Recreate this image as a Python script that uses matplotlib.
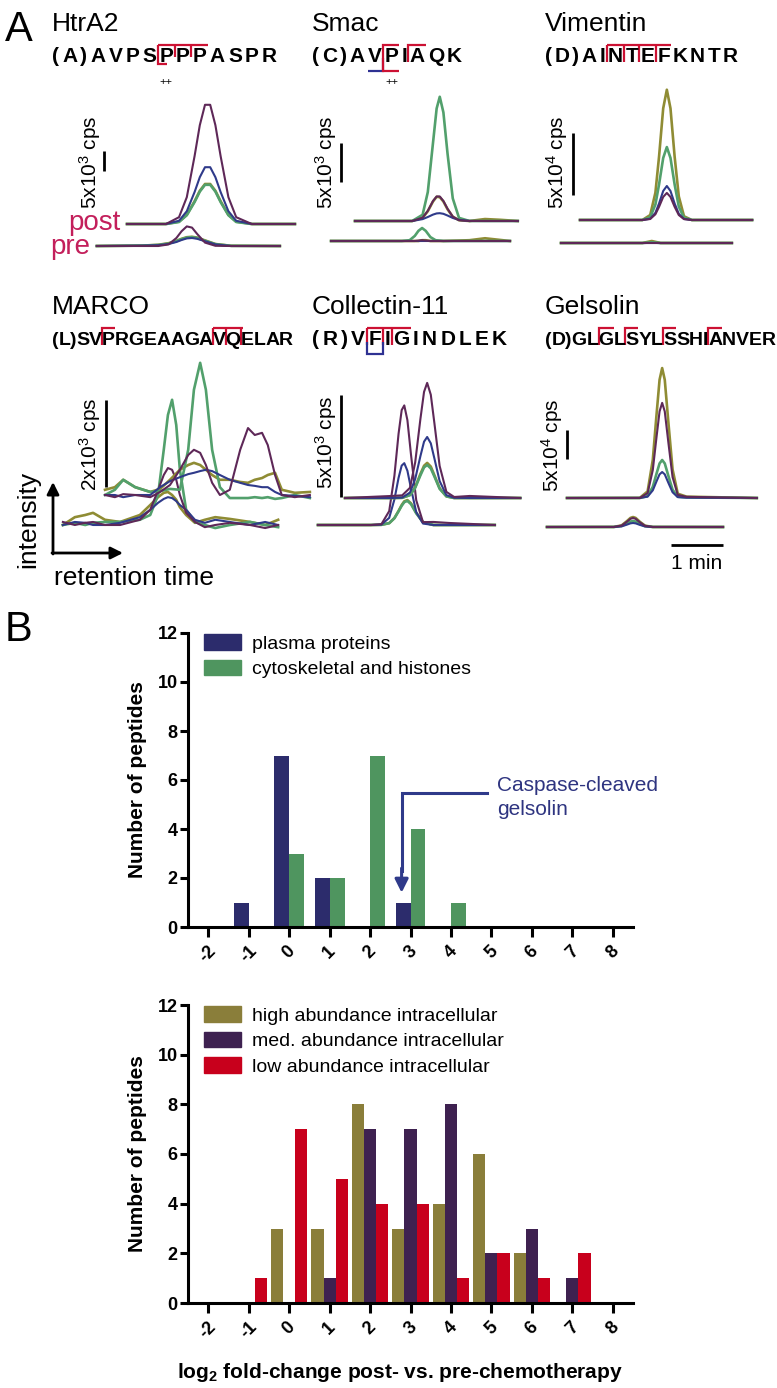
import numpy as np
import matplotlib
matplotlib.use("Agg")
import matplotlib.pyplot as plt
from matplotlib.patches import Patch
from matplotlib.font_manager import FontProperties

plt.rcParams['font.family'] = 'Liberation Sans'
plt.rcParams['mathtext.fontset'] = 'custom'
plt.rcParams['mathtext.rm'] = 'Liberation Sans'
plt.rcParams['mathtext.it'] = 'Liberation Sans:italic'
plt.rcParams['mathtext.bf'] = 'Liberation Sans:bold'

# ---------------- panel B data ----------------
bins = np.array([-2, -1, 0, 1, 2, 3, 4, 5, 6, 7, 8])
plasma = [0, 1, 7, 2, 0, 1, 0, 0, 0, 0, 0]
cyto = [0, 0, 3, 2, 7, 4, 1, 0, 0, 0, 0]
high_ab = [0, 0, 3, 3, 8, 3, 4, 6, 2, 0, 0]
med_ab = [0, 0, 0, 1, 7, 7, 8, 2, 3, 1, 0]
low_ab = [0, 1, 7, 5, 4, 4, 1, 2, 1, 2, 0]

# ---------------- panel A data (time in min, intensity in cps) ----------------
htra2_t_post = [0, 0.75, 1.0, 1.15, 1.3, 1.4, 1.5, 1.6, 1.7, 1.8, 1.95, 2.1, 2.4, 3.23]
htra2_post_olive = [0, 0, 600, 2300, 5700, 8300, 10000, 10000, 8300, 5700, 2300, 600, 0, 0]
htra2_post_green = [0, 0, 500, 2200, 5500, 8100, 9800, 9800, 8100, 5500, 2200, 500, 0, 0]
htra2_post_navy = [0, 0, 800, 3200, 8000, 11700, 14200, 14200, 11700, 8000, 3200, 800, 0, 0]
htra2_post_purple = [0, 0, 1700, 6700, 17000, 24700, 29800, 29800, 24700, 17000, 6700, 1700, 0, 0]
htra2_t_pre = [-0.58, 0.3, 0.6, 0.8, 0.95, 1.05, 1.15, 1.25, 1.35, 1.5, 1.7, 2.0, 2.94]
htra2_pre_olive = [0, 100, 300, 700, 1300, 1800, 2200, 2300, 2100, 1400, 500, 50, 0]
htra2_pre_green = [0, 100, 250, 600, 1200, 1700, 2100, 2200, 2000, 1300, 450, 50, 0]
htra2_pre_navy = [0, 100, 200, 500, 1000, 1500, 1900, 2000, 1800, 1200, 400, 0, 0]
htra2_pre_purple = [0, 0, 0, 400, 2000, 3700, 4900, 4600, 3000, 850, 50, 0, 0]

smac_t_post = [0, 1.1, 1.3, 1.4, 1.5, 1.57, 1.63, 1.7, 1.78, 1.88, 2.0, 2.2, 2.5, 2.8, 3.13]
smac_post_olive = [0, 0, 400, 1250, 2500, 3100, 3050, 2500, 1500, 550, 100, 0, 250, 150, 0]
smac_post_green = [0, 0, 800, 3700, 10000, 14400, 15900, 13900, 8600, 2900, 400, 0, 0, 0, 0]
smac_post_navy = [0, 0, 240, 510, 820, 970, 1000, 920, 700, 390, 140, 10, 0, 0, 0]
smac_post_purple = [0, 0, 430, 1300, 2560, 3140, 3140, 2560, 1560, 560, 100, 0, 0, 0, 0]
smac_t_pre = [-0.46, 0.9, 1.05, 1.15, 1.22, 1.29, 1.36, 1.45, 1.55, 1.7, 2.2, 2.5, 2.98]
smac_pre_olive = [0, 0, 0, 0, 0, 100, 100, 0, 0, 0, 100, 350, 0]
smac_pre_green = [0, 0, 100, 650, 1300, 1660, 1300, 500, 100, 0, 0, 0, 0]
smac_pre_navy = [0, 0, 0, 0, 0, 0, 0, 0, 0, 0, 0, 0, 0]
smac_pre_purple = [0, 0, 0, 0, 50, 100, 50, 0, 0, 0, 0, 0, 0]

vim_t_post = [0, 1.2, 1.35, 1.45, 1.52, 1.6, 1.67, 1.74, 1.82, 1.9, 2.0, 2.15, 3.31]
vim_post_olive = [0, 0, 4000, 22000, 51000, 90000, 105000, 90000, 51000, 19000, 3000, 0, 0]
vim_post_green = [0, 0, 2200, 12500, 28600, 50000, 58800, 50000, 28600, 10800, 1800, 0, 0]
vim_post_navy = [0, 0, 1000, 5800, 13300, 23400, 27400, 23400, 13300, 5000, 850, 0, 0]
vim_post_purple = [0, 0, 800, 4600, 10600, 18600, 21800, 18600, 10600, 4000, 700, 0, 0]
vim_t_pre = [-0.365, 1.2, 1.38, 1.55, 2.92]
vim_pre_olive = [0, 0, 1600, 0, 0]
vim_pre_green = [0, 0, 600, 0, 0]
vim_pre_navy = [0, 0, 0, 0, 0]
vim_pre_purple = [0, 0, 0, 0, 0]

marco_t_post = [0, 0.19, 0.35, 0.58, 0.87, 1.06, 1.25, 1.44, 1.6, 1.71, 1.83, 1.94,
                2.06, 2.21, 2.4, 2.6, 2.75, 2.88, 3.02, 3.13, 3.27, 3.4, 3.65, 3.94]
marco_post_olive = [120, 180, 350, 180, 70, 140, 350, 580, 690, 740, 690, 580,
                    460, 350, 350, 300, 280, 350, 390, 460, 510, 120, 50, 70]
marco_post_green = [0, 120, 350, 180, 70, 90, 140, 120, 1040, 2420, 3040, 2420,
                    1040, 180, -70, -70, -70, -50, -70, -50, -90, -70, 0, -70]
marco_post_navy = [0, 0, -50, 0, 0, 180, 320, 410, 480, 510, 550, 580,
                   550, 460, 350, 280, 230, 210, 180, 180, 70, 0, -20, -50]
marco_post_purple = [0, -50, 20, 0, -50, 70, 230, 580, 920, 1040, 970, 690,
                     280, 0, 120, 1040, 1540, 1380, 1430, 1150, 460, 0, -50, 0]
marco_t_pre = [-0.81, -0.58, -0.38, -0.23, 0, 0.29, 0.67, 0.87, 1.02, 1.13, 1.21,
               1.29, 1.37, 1.44, 1.56, 1.73, 1.92, 2.12, 2.4, 2.79, 3.08, 3.33]
marco_pre_olive = [0, 180, 230, 280, 120, 70, 230, 460, 640, 740, 760,
                   690, 580, 410, 230, 50, 120, 180, 140, 70, 0, 120]
marco_pre_green = [0, 50, 0, 50, 70, 70, 120, 230, 690, 1730, 2530,
                   2880, 2300, 1270, 350, 70, 0, -70, 0, 70, 0, -50]
marco_pre_navy = [0, 70, 50, 0, 0, 50, 180, 350, 510, 600, 640,
                  620, 550, 460, 350, 120, 50, 120, 70, 0, 70, 0]
marco_pre_purple = [70, 0, 50, 70, 0, 0, 120, 350, 800, 1150, 1310,
                    1270, 1040, 690, 280, 70, -50, 0, 50, 0, -70, 0]

col_t_post = [0, 0.9, 1.1, 1.25, 1.35, 1.45, 1.52, 1.58, 1.65, 1.72, 1.82, 1.95, 2.1, 2.4, 3.37]
col_post_olive = [0, 0, 10, 150, 530, 1180, 1580, 1720, 1540, 1110, 480, 80, 0, 0, 0]
col_post_green = [0, 0, 10, 140, 500, 1110, 1500, 1620, 1450, 1050, 450, 80, 0, 0, 0]
col_post_navy = [0, 0, 20, 270, 930, 2050, 2760, 2990, 2680, 1930, 830, 140, 10, 0, 0]
col_post_purple = [0, 100, 130, 500, 1750, 3870, 5200, 5640, 5060, 3650, 1570, 300, 50, 100, 0]
col_t_pre = [-0.52, 0.5, 0.7, 0.85, 0.95, 1.03, 1.09, 1.14, 1.2, 1.27, 1.37, 1.5, 1.7, 2.0, 2.88]
col_pre_olive = [0, 0, 10, 90, 340, 690, 980, 1160, 1220, 1060, 600, 140, 0, 0, 0]
col_pre_green = [0, 0, 10, 90, 330, 670, 940, 1120, 1180, 1020, 570, 140, 0, 0, 0]
col_pre_navy = [0, 0, 20, 350, 1250, 2310, 2910, 3030, 2660, 1780, 630, 70, 0, 0, 0]
col_pre_purple = [0, 0, 40, 680, 2410, 4470, 5630, 5860, 5140, 3430, 1210, 140, 150, 100, 0]

gel_t_post = [0, 1.4, 1.55, 1.65, 1.72, 1.78, 1.83, 1.88, 1.95, 2.03, 2.13, 2.3, 3.65]
gel_post_olive = [0, 200, 11400, 65900, 141800, 203800, 224000, 203800, 129900, 49300, 7400, 2300, 0]
gel_post_green = [0, 60, 3300, 19300, 41500, 59600, 65500, 59600, 38000, 14400, 2200, 1000, 0]
gel_post_navy = [0, 40, 2300, 13200, 28400, 40800, 44800, 40800, 26000, 9900, 1500, 500, 0]
gel_post_purple = [0, 150, 8400, 48200, 103800, 149200, 164000, 149200, 95100, 36100, 5400, 2000, 0]
gel_t_pre = [-0.385, 0.9, 1.05, 1.15, 1.22, 1.27, 1.32, 1.4, 1.5, 1.65, 3.0]
gel_pre_olive = [0, 100, 2750, 9980, 15650, 17200, 15650, 9100, 2320, 70, 0]
gel_pre_green = [0, 60, 1650, 5970, 9370, 10300, 9370, 5460, 1390, 40, 0]
gel_pre_navy = [0, 40, 1100, 4000, 6280, 6900, 6280, 3660, 930, 30, 0]
gel_pre_purple = [0, 90, 2480, 8990, 14100, 15500, 14100, 8200, 2090, 60, 0]

# ---------------- styling ----------------
W, H = 777, 1388
PX_PER_MIN = 52
C_OLIVE, C_GREEN, C_NAVY, C_PURPLE = '#8f8c34', '#52a06c', '#2f3a8a', '#5e2858'
TRACE_COLORS = [C_OLIVE, C_GREEN, C_NAVY, C_PURPLE]
TRACE_LW = [1.9, 1.9, 1.5, 1.5]
RED, BLUE, CRIMSON = '#cc1133', '#2e3192', '#c31f5b'
H_NAVY, H_GREEN = '#2c2c6c', '#4f955f'
H_OLIVE, H_PURPLE, H_RED = '#8a7e3a', '#3e2150', '#c8001c'

fig = plt.figure(figsize=(W / 100, H / 100), dpi=100)
renderer = fig.canvas.get_renderer()

LEG_KW = dict(loc='upper left', bbox_to_anchor=(0.035, 0.995), frameon=False, fontsize=14,
              handlelength=1.95, handleheight=0.85, handletextpad=0.55, labelspacing=0.36,
              borderpad=0, borderaxespad=0)


# ---------------- panel B histograms ----------------
def hist_axes(top_px, bottom_px):
    ax = fig.add_axes([188 / W, 1 - bottom_px / H, 445 / W, (bottom_px - top_px) / H])
    ax.set_xlim(-2.5, 8.5)
    ax.set_ylim(0, 12)
    ax.set_yticks(range(0, 13, 2))
    ax.set_xticks(bins)
    ax.set_xticklabels([str(b) for b in bins], rotation=45, fontweight='bold', fontsize=13)
    for lab in ax.get_yticklabels():
        lab.set_fontweight('bold')
        lab.set_fontsize(13)
    for s in ['top', 'right']:
        ax.spines[s].set_visible(False)
    for s in ['left', 'bottom']:
        ax.spines[s].set_linewidth(2.2)
    ax.tick_params(axis='x', width=2.2, length=7, pad=4)
    ax.tick_params(axis='y', width=2.2, length=6, pad=1.5)
    ax.set_ylabel('Number of peptides', fontsize=15, fontweight='bold')
    ax.yaxis.set_label_coords(-0.092, 0.5)
    return ax


ax1 = hist_axes(633, 927)
ax1.bar(bins - 0.185, plasma, width=0.37, color=H_NAVY)
ax1.bar(bins + 0.185, cyto, width=0.37, color=H_GREEN)
ax1.legend(handles=[Patch(color=H_NAVY, label='plasma proteins'),
                    Patch(color=H_GREEN, label='cytoskeletal and histones')], **LEG_KW)
ax1.plot([4.88, 2.78, 2.78], [5.47, 5.47, 2.3], color=C_NAVY, lw=2.2, solid_joinstyle='miter')
ax1.annotate('', xy=(2.78, 1.4), xytext=(2.78, 2.4),
             arrowprops=dict(arrowstyle='-|>', color=C_NAVY, lw=2.2, mutation_scale=20,
                             shrinkA=0, shrinkB=0))
ax1.text(5.13, 5.3, 'Caspase-cleaved\ngelsolin', color='#2e3480', fontsize=15,
         ha='left', va='center', linespacing=1.35)

ax2 = hist_axes(1005, 1303)
ax2.bar(bins - 0.3, high_ab, width=0.3, color=H_OLIVE)
ax2.bar(bins, med_ab, width=0.3, color=H_PURPLE)
ax2.bar(bins + 0.3, low_ab, width=0.3, color=H_RED)
ax2.legend(handles=[Patch(color=H_OLIVE, label='high abundance intracellular'),
                    Patch(color=H_PURPLE, label='med. abundance intracellular'),
                    Patch(color=H_RED, label='low abundance intracellular')], **LEG_KW)
ax2.set_xlabel('log$_\\mathbf{2}$ fold-change post- vs. pre-chemotherapy',
               fontsize=15, fontweight='bold')
ax2.xaxis.set_label_coords((400 - 188) / 445, -(1372 - 1303) / 298)
ax2.xaxis.label.set_va('center')

# ---------------- overlay in pixel coordinates ----------------
ov = fig.add_axes([0, 0, 1, 1])
ov.set_xlim(0, W)
ov.set_ylim(H, 0)
ov.axis('off')


def draw_seq(seq, x_start, x_end, baseline, size=15):
    prop = FontProperties(family='Liberation Sans', weight='bold', size=size)
    widths = [renderer.get_text_width_height_descent(ch, prop, ismath=False)[0] for ch in seq]
    gap = (x_end - x_start - sum(widths)) / (len(seq) - 1)
    lefts = []
    x = x_start
    for ch, w in zip(seq, widths):
        ov.text(x, baseline, ch, fontproperties=prop, ha='left', va='baseline')
        lefts.append(x)
        x += w + gap
    return [p - gap / 2 for p in lefts] + [x - gap / 2]


def seg(xs, ys, col=RED):
    ov.plot(xs, ys, color=col, lw=1.6, solid_capstyle='butt', solid_joinstyle='miter')


def chrom(x0, base, cpp, pre_base, t_post, post, t_pre, pre, bar_px, bar_val, lab_px, lab):
    ax = fig.add_axes([0, 0, 1, 1])
    ax.set_xlim(-x0 / PX_PER_MIN, (W - x0) / PX_PER_MIN)
    ax.set_ylim(-(H - base) * cpp, base * cpp)
    ax.axis('off')
    dy = -(pre_base - base) * cpp
    for vals, col, lw in zip(pre, TRACE_COLORS, TRACE_LW):
        ax.plot(t_pre, np.array(vals) + dy, color=col, lw=lw, solid_joinstyle='round')
    for vals, col, lw in zip(post, TRACE_COLORS, TRACE_LW):
        ax.plot(t_post, vals, color=col, lw=lw, solid_joinstyle='round')
    xb = (bar_px[0] - x0) / PX_PER_MIN
    yb = (base - bar_px[1]) * cpp
    ax.plot([xb, xb], [yb, yb + bar_val], color='k', lw=2.0, solid_capstyle='butt')
    ov.text(lab_px[0], lab_px[1], lab, rotation=90, ha='center', va='center', fontsize=15)
    return ax


# HtrA2
chrom(127, 224, 250, 246, htra2_t_post,
      [htra2_post_olive, htra2_post_green, htra2_post_navy, htra2_post_purple],
      htra2_t_pre, [htra2_pre_olive, htra2_pre_green, htra2_pre_navy, htra2_pre_purple],
      (104, 171), 5000, (90, 162), '5x10$^3$ cps')
# Smac
chrom(355, 221, 128, 241, smac_t_post,
      [smac_post_olive, smac_post_green, smac_post_navy, smac_post_purple],
      smac_t_pre, [smac_pre_olive, smac_pre_green, smac_pre_navy, smac_pre_purple],
      (341, 182), 5000, (326, 162), '5x10$^3$ cps')
# Vimentin
chrom(580, 220, 806, 243, vim_t_post,
      [vim_post_olive, vim_post_green, vim_post_navy, vim_post_purple],
      vim_t_pre, [vim_pre_olive, vim_pre_green, vim_pre_navy, vim_pre_purple],
      (573, 195), 50000, (557, 162), '5x10$^4$ cps')
# MARCO
chrom(105, 495, 23, 525, marco_t_post,
      [marco_post_olive, marco_post_green, marco_post_navy, marco_post_purple],
      marco_t_pre, [marco_pre_olive, marco_pre_green, marco_pre_navy, marco_pre_purple],
      (106, 487), 2000, (90, 444), '2x10$^3$ cps')
# Collectin-11
chrom(345, 498, 49, 525, col_t_post,
      [col_post_olive, col_post_green, col_post_navy, col_post_purple],
      col_t_pre, [col_pre_olive, col_pre_green, col_pre_navy, col_pre_purple],
      (341, 497), 5000, (326, 442), '5x10$^3$ cps')
# Gelsolin
axg = chrom(567, 498, 1724, 527, gel_t_post,
            [gel_post_olive, gel_post_green, gel_post_navy, gel_post_purple],
            gel_t_pre, [gel_pre_olive, gel_pre_green, gel_pre_navy, gel_pre_purple],
            (567, 459), 50000, (552, 445), '5x10$^4$ cps')
t1 = (671 - 567) / PX_PER_MIN
yline = (498 - 545) * 1724
axg.plot([t1, t1 + 1], [yline, yline], color='k', lw=2.0, solid_capstyle='butt')
ov.text(697, 563, '1 min', ha='center', va='center', fontsize=15)

# panel letters, titles
ov.text(19, 30, 'A', fontsize=30, ha='center', va='center')
ov.text(19, 630, 'B', fontsize=30, ha='center', va='center')
for name, x, y in [('HtrA2', 52, 24), ('Smac', 312, 24), ('Vimentin', 545, 24),
                   ('MARCO', 52, 307), ('Collectin-11', 312, 307), ('Gelsolin', 545, 307)]:
    ov.text(x, y, name, fontsize=19, ha='left', va='center')

ov.text(120, 223, 'post', color=CRIMSON, fontsize=20, ha='right', va='center')
ov.text(90, 247, 'pre', color=CRIMSON, fontsize=20, ha='right', va='center')

# sequences with cleavage marks
yb = 62
top = yb - 17
b = draw_seq('(A)AVPSPPPASPR', 52, 277, yb)
seg([b[7], b[10]], [top, top])
seg([b[7] + 9, b[7], b[7]], [yb + 2, yb + 2, top])
seg([b[8], b[8]], [top, yb - 5])
seg([b[9], b[9]], [top, yb - 5])
ov.text((b[7] + b[8]) / 2, yb + 20, '++', fontsize=8, ha='center', va='center')

b = draw_seq('(C)AVPIAQK', 312, 462, yb)
seg([b[4] + 2, b[5], b[5]], [yb + 9, yb + 9, yb - 4], BLUE)
seg([b[6] - 1, b[5], b[5], b[6] - 1], [top, top, yb + 9, yb + 9])
seg([b[7], b[7], b[8]], [yb, top, top])
ov.text((b[5] + b[6]) / 2, yb + 20, '++', fontsize=8, ha='center', va='center')

b = draw_seq('(D)AINTEFKNTR', 545, 738, yb)
seg([b[5], b[9]], [top, top])
for i in [5, 6, 7, 8]:
    seg([b[i], b[i]], [top, yb])

yb = 345
top = yb - 17
b = draw_seq('(L)SVPRGEAAGAVQELAR', 52, 293, yb, size=14)
seg([b[5], b[5], b[6]], [yb, top, top])
seg([b[13], b[15] + 2], [top, top])
for i in [13, 14, 15]:
    seg([b[i], b[i]], [top, yb])

b = draw_seq('(R)VFIGINDLEK', 312, 507, yb)
seg([b[4], b[7]], [top, top])
for i in [4, 5, 6]:
    seg([b[i], b[i]], [top, yb])
seg([b[4], b[4], b[5], b[5]], [yb - 3, yb + 9, yb + 9, yb - 3], BLUE)

b = draw_seq('(D)GLGLSYLSSHIANVER', 545, 776, yb, size=14)
for i in [5, 7, 10, 14]:
    seg([b[i], b[i], b[i + 1]], [yb, top, top])

# intensity / retention time arrows
ov.annotate('', xy=(53, 482), xytext=(53, 554),
            arrowprops=dict(arrowstyle='-|>', color='k', lw=2, mutation_scale=18,
                            shrinkA=0, shrinkB=0))
ov.annotate('', xy=(123, 553), xytext=(52, 553),
            arrowprops=dict(arrowstyle='-|>', color='k', lw=2, mutation_scale=18,
                            shrinkA=0, shrinkB=0))
ov.text(28, 519, 'intensity', rotation=90, fontsize=19, ha='center', va='center')
ov.text(134, 578, 'retention time', fontsize=19, ha='center', va='center')

fig.savefig('out.png', dpi=100)
